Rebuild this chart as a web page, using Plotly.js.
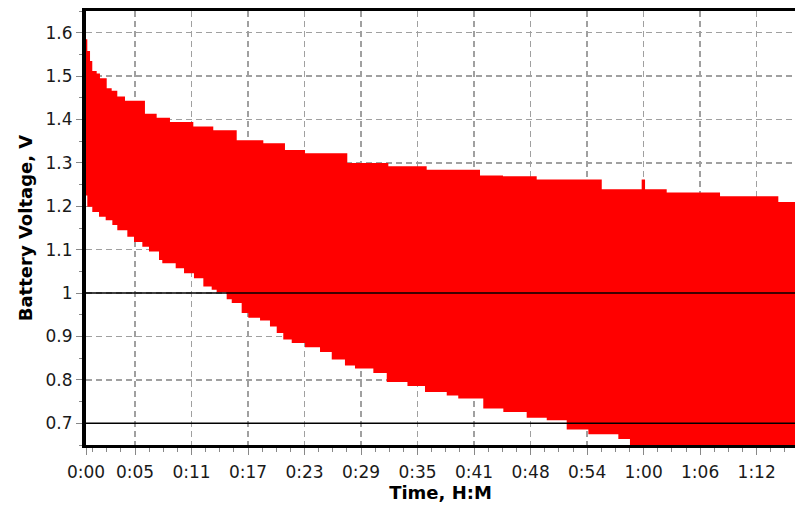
<!DOCTYPE html>
<html>
<head>
<meta charset="utf-8">
<script src="https://cdn.plot.ly/plotly-3.0.1.min.js"></script>
<style>
  html, body { margin: 0; padding: 0; background: #fff; overflow: hidden; }
  #chart { width: 795px; height: 505px; }
</style>
</head>
<body>
<div id="chart"></div>
<script>
// Discharge run: the load pulses make the voltage swing quickly, so the
// trace is drawn as the band between its upper and lower envelopes.
// Time is in minutes from the start of the run, voltage in volts.

const upperTime = [0, 0.14, 0.43, 0.67, 1.14, 1.49, 2.21, 2.74, 3.34, 4.16,
  6.29, 7.54, 8.96, 11.45, 13.58, 16.08, 18.92, 21.23, 23.37, 27.88,
  32.26, 36.35, 42.04, 44.49, 48.09, 55.03, 59.29, 59.65, 61.96, 67.65,
  73.87, 75.65];
const upperVolts = [1.585, 1.558, 1.535, 1.512, 1.506, 1.495, 1.472, 1.466, 1.453, 1.443,
  1.413, 1.404, 1.394, 1.384, 1.375, 1.352, 1.345, 1.330, 1.322, 1.300,
  1.292, 1.284, 1.271, 1.269, 1.262, 1.239, 1.262, 1.239, 1.232, 1.223,
  1.210, 1.210];

const lowerTime = [0, 0.14, 0.67, 1.39, 2.10, 2.81, 3.34, 4.41, 5.12, 6.01,
  6.72, 7.79, 8.14, 9.57, 10.46, 11.52, 12.52, 13.41, 13.94, 15.01,
  15.55, 16.61, 17.32, 18.57, 19.63, 20.35, 21.05, 21.95, 23.37, 24.97,
  26.22, 27.63, 28.70, 30.66, 32.09, 34.30, 36.17, 38.49, 39.72, 42.39,
  44.53, 47.02, 49.16, 51.29, 53.60, 56.80, 58.04, 66.00, 75.65];
const lowerVolts = [1.225, 1.199, 1.187, 1.176, 1.168, 1.157, 1.145, 1.130, 1.118, 1.107,
  1.096, 1.076, 1.069, 1.057, 1.046, 1.034, 1.015, 1.008, 1.002, 0.986,
  0.977, 0.954, 0.943, 0.937, 0.923, 0.908, 0.893, 0.885, 0.875, 0.864,
  0.847, 0.833, 0.826, 0.816, 0.795, 0.786, 0.772, 0.764, 0.757, 0.734,
  0.726, 0.713, 0.707, 0.686, 0.675, 0.664, 0.640, 0.620, 0.600];

// Time axis labels (H:M) and the reference voltage levels
const timeLabels = ['0:00', '0:05', '0:11', '0:17', '0:23', '0:29', '0:35',
  '0:41', '0:48', '0:54', '1:00', '1:06', '1:12'];
const referenceLevels = [1.0, 0.7];

// Tick placement along the time axis (minutes)
const firstTick = 5.23;
const tickStep = 6.03;
const tickVals = timeLabels.map((_, i) => i === 0 ? 0 : firstTick + tickStep * (i - 1));

const fontFamily = '"DejaVu Sans", Verdana, sans-serif';

const traces = [
  {
    x: lowerTime, y: lowerVolts,
    mode: 'lines', line: { shape: 'hv', width: 0, color: '#ff0000' },
    hoverinfo: 'skip', showlegend: false
  },
  {
    x: upperTime, y: upperVolts,
    mode: 'lines', line: { shape: 'hv', width: 0, color: '#ff0000' },
    fill: 'tonexty', fillcolor: '#ff0000',
    hoverinfo: 'skip', showlegend: false
  }
];

const layout = {
  width: 795, height: 505,
  margin: { l: 86, r: 0, t: 11, b: 60 },
  paper_bgcolor: '#ffffff', plot_bgcolor: '#ffffff',
  showlegend: false,
  font: { family: fontFamily, size: 17, color: '#1a1a1a' },
  xaxis: {
    range: [0, 75.65],
    tickmode: 'array', tickvals: tickVals, ticktext: timeLabels,
    ticks: 'outside', ticklen: 7, tickwidth: 1, tickcolor: '#888888',
    ticklabelstandoff: 3,
    tickfont: { family: fontFamily, size: 17, color: '#1a1a1a' },
    showgrid: true, gridcolor: '#a0a0a0', gridwidth: 1.5, griddash: '6px,4px',
    minor: { tickmode: 'linear', tick0: firstTick, dtick: tickStep / 4,
             ticks: 'outside', ticklen: 4, tickwidth: 1, tickcolor: '#888888', showgrid: false },
    showline: true, linecolor: '#000000', linewidth: 3, mirror: true,
    zeroline: false,
    title: { text: '<b>Time, H:M</b>', font: { family: fontFamily, size: 18, color: '#000000' }, standoff: 3 }
  },
  yaxis: {
    range: [0.65, 1.65],
    tickmode: 'linear', tick0: 0.7, dtick: 0.1,
    ticks: 'outside', ticklen: 6, tickwidth: 1, tickcolor: '#888888',
    tickfont: { family: fontFamily, size: 17, color: '#1a1a1a' },
    showgrid: true, gridcolor: '#a0a0a0', gridwidth: 1.5, griddash: '6px,4px',
    minor: { tick0: 0.65, dtick: 0.05, ticks: 'outside', ticklen: 3, tickwidth: 1,
             tickcolor: '#888888', showgrid: false },
    showline: true, linecolor: '#000000', linewidth: 4,
    zeroline: false,
    title: { text: '<b>Battery Voltage, V</b>', font: { family: fontFamily, size: 18, color: '#000000' }, standoff: 9 }
  },
  shapes: referenceLevels.map(v => ({
    type: 'line', xref: 'paper', x0: 0, x1: 1, yref: 'y', y0: v, y1: v,
    line: { color: '#000000', width: 1.5 }, layer: 'above'
  }))
};

Plotly.newPlot('chart', traces, layout, { staticPlot: true, displayModeBar: false });
</script>
</body>
</html>
